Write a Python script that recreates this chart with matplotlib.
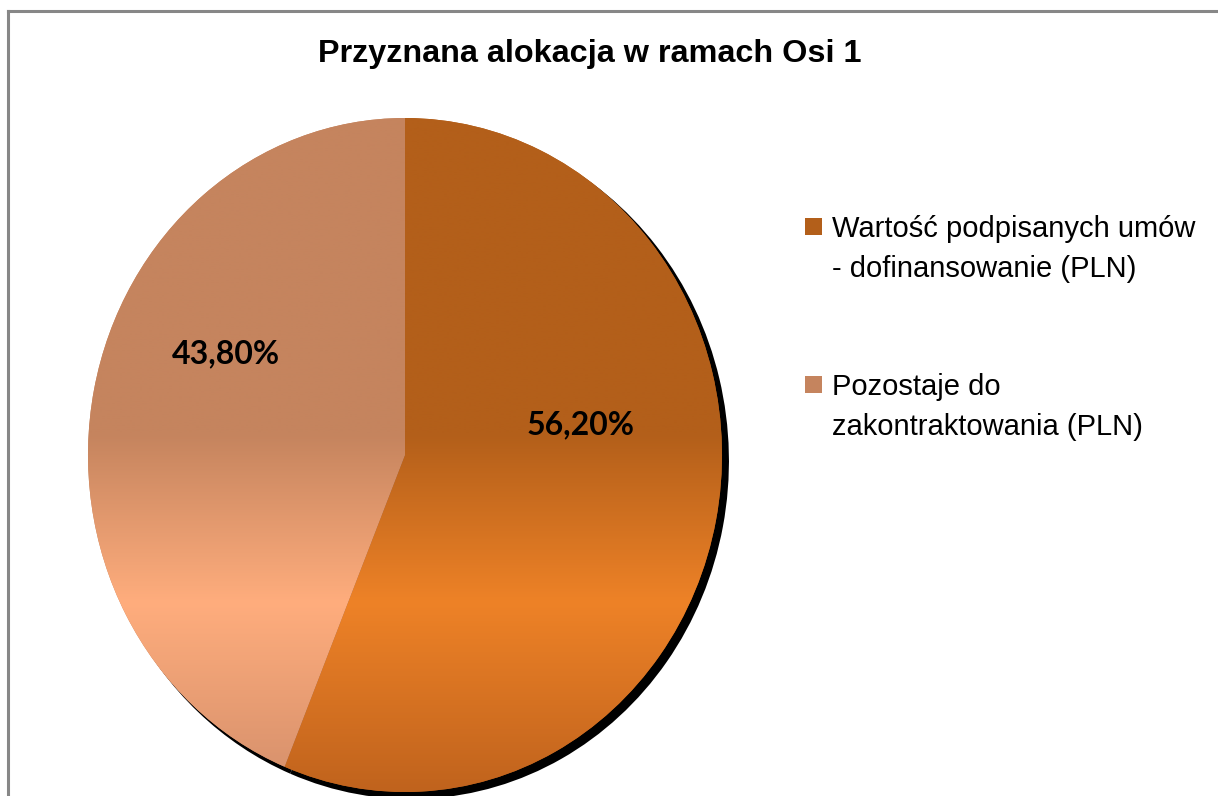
import matplotlib
matplotlib.use('Agg')
import matplotlib.pyplot as plt
import numpy as np
from matplotlib.colors import LinearSegmentedColormap
from matplotlib.lines import Line2D
from matplotlib.patches import Rectangle

W, H = 1218, 796

# dane
title = 'Przyznana alokacja w ramach Osi 1'
categories = ['Wartość podpisanych umów\n- dofinansowanie (PLN)',
              'Pozostaje do\nzakontraktowania (PLN)']
shares = [56.2, 43.8]

# kolory (góra / jasny pas / dół gradientu)
top_colors = ['#B35F1A', '#C5845E']
bright_colors = ['#EE8227', '#FFAD7D']
bottom_colors = ['#C0631D', '#D48F6B']

fig = plt.figure(figsize=(W / 100, H / 100), dpi=100)
fig.patch.set_facecolor('white')

# ramka wykresu (szara linia u góry i z lewej)
fig.add_artist(Line2D([7.5 / W, 1], [1 - 10.5 / H] * 2, color='#878787', lw=2.2))
fig.add_artist(Line2D([7.5 / W] * 2, [0, 1 - 10.5 / H], color='#878787', lw=2.2))

# tytuł
fig.text(590 / W, 1 - 62 / H, title, ha='center', va='baseline',
         fontsize=23.3, fontweight='bold', family='Liberation Sans')

# kołowy (lekko spłaszczony jak w oryginale)
cx, cy, rx, ry = 405, 455, 317, 337
pad = 1.1
ax = fig.add_axes([(cx - pad * rx) / W, 1 - (cy + pad * ry) / H,
                   2 * pad * rx / W, 2 * pad * ry / H])

# cień
ax.pie(shares, colors=['black', 'black'], startangle=90, counterclock=False,
       center=(6 / rx, -6 / ry), radius=1.003, wedgeprops=dict(linewidth=0))


def fmt(p):
    return f'{p:.2f}%'.replace('.', ',')


wedges, texts, autotexts = ax.pie(shares, colors=top_colors, startangle=90,
                                  counterclock=False, autopct=fmt,
                                  wedgeprops=dict(linewidth=0))

# gradient pionowy w każdym wycinku
grad = np.linspace(0, 1, 512).reshape(-1, 1)
for i, w in enumerate(wedges):
    cmap = LinearSegmentedColormap.from_list(
        f'g{i}', [(0, top_colors[i]), (0.47, top_colors[i]),
                  (0.72, bright_colors[i]), (1, bottom_colors[i])])
    im = ax.imshow(grad, cmap=cmap, extent=(-1, 1, -1, 1), origin='upper',
                   aspect='auto', interpolation='bilinear', zorder=w.get_zorder() + 0.1)
    im.set_clip_path(w)

label_pos = [(0.555, 0.089), (-0.565, 0.30)]
for t, pos in zip(autotexts, label_pos):
    t.set_position(pos)
    t.set_fontsize(23)
    t.set_fontweight('bold')
    t.set_family('Lato')
    t.set_zorder(10)
    t.set_ha('center')
    t.set_va('center')

ax.set_xlim(-pad, pad)
ax.set_ylim(-pad, pad)
ax.set_aspect('auto')
ax.axis('off')

# legenda
leg_tops = [218, 376]
for y0, lab, c in zip(leg_tops, categories, top_colors):
    fig.add_artist(Rectangle((805 / W, 1 - (y0 + 17) / H), 17 / W, 17 / H,
                             facecolor=c, edgecolor='none'))
    fig.text(832 / W, 1 - (y0 - 3) / H, lab, ha='left', va='top',
             fontsize=21, family='Liberation Sans', linespacing=1.55)

fig.savefig('out.png', dpi=100)
